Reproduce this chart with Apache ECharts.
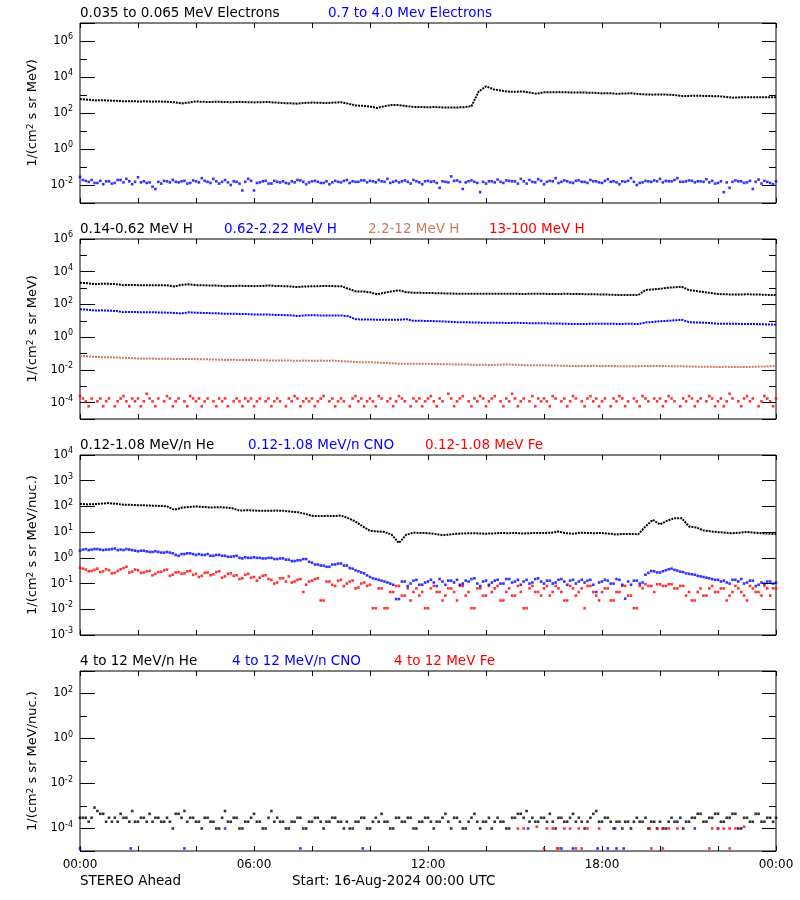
<!DOCTYPE html>
<html><head><meta charset="utf-8">
<script src="https://cdn.jsdelivr.net/npm/echarts@6/dist/echarts.min.js"></script>
<style>html,body{margin:0;padding:0;background:#fff}#c{width:800px;height:900px}</style>
</head><body><div id="c"></div>
<script>
// ---------- DATA (values in physical units; 0.25 h steps for smooth series, 0.1 h for scattered) ----------
const xTickLabels = ['00:00','06:00','12:00','18:00','00:00'];

// Panel 1: electrons
const elecLow = [ // 0.035-0.065 MeV, 97 values, every 15 min
 603,550,501,513,490,479,447,457,
 437,447,427,437,417,398,339,380,
 437,417,407,427,407,398,417,398,
 389,398,407,380,355,347,331,363,
 380,372,355,380,398,331,263,251,
 229,191,240,282,275,240,219,214,
 209,214,204,204,204,209,240,1585,
 3020,2089,1778,1549,1514,1585,1380,1175,
 1413,1413,1445,1413,1380,1380,1349,1318,
 1230,1259,1175,1202,1259,1148,1072,1047,
 1072,1047,1000,871,891,912,891,871,
 851,794,708,741,759,741,741,741,
 759];
const elecHigh = [ // 0.7-4.0 MeV, 241 values, every 6 min
 0.028,0.019,0.017,0.015,0.019,0.013,0.013,0.017,0.011,0.016,0.016,0.012,0.013,0.019,0.019,0.014,0.022,0.016,0.011,0.015,
 0.027,0.014,0.016,0.013,0.014,0.008,0.006,0.015,0.012,0.017,0.016,0.014,0.019,0.015,0.014,0.016,0.017,0.012,0.013,0.018,
 0.016,0.014,0.024,0.017,0.015,0.013,0.022,0.016,0.012,0.015,0.019,0.014,0.010,0.016,0.015,0.012,0.005,0.015,0.022,0.017,
 0.005,0.013,0.014,0.016,0.017,0.012,0.012,0.017,0.015,0.014,0.016,0.013,0.012,0.016,0.014,0.019,0.018,0.015,0.011,0.014,
 0.016,0.017,0.015,0.013,0.013,0.016,0.011,0.014,0.017,0.015,0.014,0.017,0.019,0.013,0.016,0.015,0.015,0.018,0.018,0.014,
 0.017,0.016,0.014,0.019,0.016,0.015,0.022,0.013,0.015,0.017,0.014,0.016,0.018,0.015,0.012,0.019,0.016,0.014,0.011,0.016,
 0.017,0.015,0.016,0.013,0.007,0.016,0.015,0.014,0.030,0.017,0.018,0.015,0.006,0.014,0.016,0.018,0.015,0.013,0.004,0.015,
 0.012,0.016,0.016,0.014,0.020,0.015,0.013,0.018,0.017,0.016,0.016,0.012,0.022,0.016,0.012,0.019,0.015,0.014,0.021,0.017,
 0.011,0.015,0.017,0.016,0.024,0.013,0.015,0.018,0.016,0.014,0.013,0.017,0.018,0.015,0.015,0.013,0.019,0.016,0.016,0.014,
 0.013,0.017,0.021,0.015,0.016,0.014,0.011,0.016,0.015,0.017,0.024,0.015,0.010,0.013,0.014,0.017,0.016,0.015,0.018,0.016,
 0.022,0.014,0.017,0.016,0.016,0.019,0.024,0.015,0.015,0.016,0.018,0.017,0.014,0.016,0.016,0.015,0.021,0.014,0.017,0.012,
 0.013,0.016,0.004,0.014,0.007,0.015,0.018,0.016,0.016,0.013,0.014,0.017,0.006,0.015,0.020,0.012,0.017,0.015,0.013,0.011,
 0.016];

// Panel 2: protons
const hLow = [ // 0.14-0.62 MeV H, 97 values
 2138,1995,1738,1862,1820,1738,1514,1549,
 1514,1514,1479,1514,1479,1259,1585,1698,
 1514,1479,1445,1413,1318,1349,1380,1349,
 1318,1349,1445,1349,1318,1259,1148,1259,
 1288,1318,1349,1318,1318,912,631,617,
 550,417,525,631,724,562,513,513,
 501,490,479,468,447,457,447,447,
 447,447,457,447,447,437,447,447,
 447,437,437,447,437,437,417,417,
 407,398,380,372,372,372,759,832,
 912,1047,1122,1202,759,661,575,501,
 437,417,407,407,417,407,398,380,
 372];
const hMid = [ // 0.62-2.22 MeV H, 97 values
 51.3,47.9,42.7,43.7,41.7,39.8,33.9,34.7,
 33.9,33.9,33.1,32.4,31.6,30.2,28.2,33.1,
 31.6,30.2,29.5,28.8,26.9,26.9,26.3,25.7,
 24.5,24.5,24.0,22.9,22.4,21.9,19.5,21.4,
 21.9,21.4,21.4,21.4,21.4,19.1,12.6,12.0,
 12.0,11.7,11.5,11.7,11.5,12.6,10.0,10.0,
 9.8,9.5,9.1,8.7,8.3,8.3,7.9,7.8,
 7.6,7.6,7.6,7.4,7.6,7.4,7.1,7.1,
 7.1,6.9,6.8,6.6,6.3,6.5,6.5,6.6,
 6.6,6.6,6.5,6.5,6.6,6.3,7.9,8.5,
 9.5,10.0,10.7,11.5,8.3,7.9,7.6,7.2,
 6.6,6.6,6.6,6.5,6.5,6.3,6.2,6.0,
 5.8];
const hHigh = [ // 2.2-12 MeV H, 97 values
 0.0724,0.0676,0.0631,0.0603,0.0589,0.0575,0.0550,0.0525,
 0.0490,0.0501,0.0490,0.0479,0.0479,0.0468,0.0457,0.0468,
 0.0457,0.0447,0.0437,0.0427,0.0407,0.0417,0.0407,0.0398,
 0.0398,0.0389,0.0380,0.0380,0.0372,0.0372,0.0363,0.0372,
 0.0363,0.0372,0.0363,0.0372,0.0339,0.0324,0.0302,0.0295,
 0.0295,0.0282,0.0269,0.0251,0.0240,0.0234,0.0234,0.0234,
 0.0234,0.0229,0.0224,0.0219,0.0214,0.0214,0.0209,0.0204,
 0.0204,0.0200,0.0209,0.0214,0.0209,0.0200,0.0191,0.0191,
 0.0191,0.0186,0.0182,0.0178,0.0174,0.0174,0.0174,0.0178,
 0.0174,0.0174,0.0170,0.0170,0.0166,0.0170,0.0174,0.0174,
 0.0174,0.0170,0.0166,0.0166,0.0162,0.0158,0.0158,0.0155,
 0.0151,0.0155,0.0151,0.0151,0.0151,0.0155,0.0162,0.0166,
 0.0174];
const hTop = [ // 13-100 MeV H, 241 values (null = no count)
 2.5e-4,1.8e-4,1.2e-4,6e-5,1.8e-4,null,1.2e-4,1.8e-4,6e-5,1.2e-4,1.8e-4,null,6e-5,1.2e-4,1.8e-4,2.5e-4,1.2e-4,6e-5,1.8e-4,1.2e-4,
 1.8e-4,6e-5,1.2e-4,3.5e-4,1.8e-4,1.2e-4,6e-5,1.8e-4,null,1.2e-4,2.5e-4,1.8e-4,6e-5,1.2e-4,1.8e-4,null,1.2e-4,6e-5,2.5e-4,1.8e-4,
 1.2e-4,1.8e-4,6e-5,1.2e-4,1.8e-4,null,1.2e-4,6e-5,1.8e-4,1.2e-4,1.8e-4,6e-5,null,1.2e-4,1.8e-4,1.2e-4,6e-5,1.8e-4,1.2e-4,1.8e-4,
 6e-5,1.2e-4,1.8e-4,null,1.2e-4,1.8e-4,6e-5,1.2e-4,1.8e-4,1.2e-4,null,6e-5,1.8e-4,1.2e-4,2.5e-4,1.8e-4,6e-5,1.2e-4,1.8e-4,1.2e-4,
 1.8e-4,6e-5,1.2e-4,1.8e-4,2.5e-4,null,1.2e-4,1.8e-4,6e-5,1.2e-4,1.8e-4,1.2e-4,null,6e-5,1.8e-4,2.5e-4,1.2e-4,1.8e-4,6e-5,1.2e-4,
 1.8e-4,1.2e-4,6e-5,2.5e-4,1.8e-4,null,1.2e-4,1.8e-4,6e-5,1.2e-4,2.5e-4,1.8e-4,1.2e-4,null,6e-5,1.8e-4,1.2e-4,1.8e-4,6e-5,1.2e-4,
 1.8e-4,2.5e-4,1.2e-4,6e-5,1.8e-4,1.2e-4,null,3.5e-4,1.8e-4,6e-5,1.2e-4,1.8e-4,2.5e-4,null,1.2e-4,6e-5,1.8e-4,1.2e-4,2.5e-4,1.8e-4,
 6e-5,1.2e-4,1.8e-4,2.5e-4,null,1.2e-4,6e-5,1.8e-4,1.2e-4,3.5e-4,1.8e-4,6e-5,1.2e-4,1.8e-4,null,1.2e-4,2.5e-4,6e-5,1.8e-4,1.2e-4,
 1.8e-4,1.2e-4,6e-5,2.5e-4,1.8e-4,null,1.2e-4,1.8e-4,6e-5,1.2e-4,2.5e-4,1.8e-4,null,1.2e-4,6e-5,1.8e-4,2.5e-4,1.2e-4,1.8e-4,6e-5,
 1.2e-4,1.8e-4,null,6e-5,1.8e-4,1.2e-4,2.5e-4,1.8e-4,6e-5,1.2e-4,null,1.8e-4,1.2e-4,6e-5,2.5e-4,1.8e-4,1.2e-4,null,1.8e-4,1.2e-4,
 1.8e-4,6e-5,1.2e-4,2.5e-4,1.8e-4,1.2e-4,null,6e-5,1.8e-4,1.2e-4,2.5e-4,1.8e-4,6e-5,1.2e-4,1.8e-4,null,1.2e-4,2.5e-4,1.8e-4,6e-5,
 1.2e-4,1.8e-4,6e-5,1.2e-4,3.5e-4,1.8e-4,null,1.2e-4,6e-5,1.8e-4,2.5e-4,1.2e-4,1.8e-4,null,6e-5,1.2e-4,2.5e-4,1.8e-4,1.2e-4,6e-5,
 1.8e-4];

// Panel 3: 0.12-1.08 MeV/n ions
const heLow = [ // He, 97 values
 126,120,123,129,135,126,117,115,
 112,110,107,105,100,74,89,95,
 100,95,91,93,91,85,69,71,
 69,68,68,69,68,63,60,52,
 43,42,43,42,44,35,26,16.6,
 11.2,10.7,10.2,7.9,3.8,7.9,9.5,9.3,
 9.1,8.5,7.6,8.1,8.7,8.9,9.1,8.9,
 8.7,8.9,9.3,9.1,9.3,8.9,9.1,9.3,
 9.3,9.5,10.5,9.1,8.7,9.5,9.3,9.1,
 9.3,8.7,8.1,8.5,8.5,8.3,16.6,30,
 20,28,35,35,16.6,15.1,11.7,10.7,
 10.0,9.5,9.1,9.5,10.2,9.5,9.1,8.7,
 8.3];
const cnoLow = [ // CNO, 241 values
 1.9,2.1,2.2,2.0,2.1,2.2,2.2,2.1,2.0,2.1,2.1,2.2,2.3,2.0,2.1,2.0,2.2,2.1,2.0,1.9,
 1.8,1.9,1.9,1.8,1.7,1.7,1.8,1.7,1.6,1.6,1.7,1.6,1.5,1.3,1.2,1.4,1.4,1.5,1.5,1.4,
 1.3,1.4,1.3,1.3,1.4,1.2,1.2,1.3,1.3,1.2,1.2,1.1,1.1,1.15,1.2,1.0,0.95,1.05,1.0,1.0,
 1.05,1.0,1.0,0.95,0.95,1.0,1.0,0.9,0.9,0.95,0.95,0.85,0.85,0.75,0.75,0.8,0.8,0.9,0.9,0.7,
 0.65,0.55,0.55,0.5,0.5,0.45,0.45,0.55,0.55,0.6,0.6,0.5,0.5,0.4,0.38,0.33,0.3,0.27,0.25,0.21,
 0.18,0.16,0.15,0.14,0.13,0.12,0.11,0.10,0.09,0.025,0.025,0.12,0.12,0.08,0.10,0.13,0.14,0.09,0.09,0.11,
 0.12,0.14,0.11,0.08,0.15,0.12,0.09,0.13,0.13,0.11,0.14,0.09,0.10,0.13,0.12,0.15,0.16,0.10,0.08,0.12,
 0.13,0.09,0.11,0.13,0.14,0.10,0.10,0.15,0.15,0.11,0.12,0.14,0.09,0.12,0.14,0.10,0.11,0.15,0.16,0.12,
 0.10,0.13,0.13,0.10,0.11,0.14,0.15,0.12,0.09,0.13,0.14,0.10,0.12,0.14,0.11,0.13,0.14,0.09,0.047,0.11,
 0.12,0.14,0.13,0.10,0.10,0.15,0.14,0.09,0.026,0.12,0.09,0.13,0.13,0.10,0.11,0.22,0.26,0.31,0.30,0.27,
 0.27,0.30,0.33,0.36,0.38,0.34,0.32,0.29,0.28,0.25,0.24,0.23,0.22,0.20,0.19,0.18,0.17,0.16,0.15,0.14,
 0.14,0.12,0.13,0.11,0.10,0.14,0.14,0.12,0.15,0.10,0.11,0.13,0.13,0.08,0.09,0.11,0.10,0.12,0.12,0.10,
 0.11];
const feLow = [ // Fe, 241 values
 0.42,0.38,0.35,0.30,0.31,0.34,0.38,0.28,0.30,0.36,0.33,0.25,0.26,0.31,0.36,0.40,0.45,0.27,0.29,0.35,
 0.33,0.26,0.27,0.30,0.31,0.21,0.24,0.28,0.29,0.33,0.35,0.20,0.22,0.27,0.28,0.24,0.25,0.30,0.31,0.22,
 0.24,0.18,0.20,0.26,0.27,0.21,0.23,0.28,0.30,0.17,0.19,0.24,0.25,0.20,0.21,0.15,0.16,0.22,0.24,0.17,
 0.18,0.13,0.17,0.20,0.21,0.15,0.14,0.10,0.11,0.16,0.16,0.12,0.19,0.11,0.12,0.14,0.15,0.047,0.09,0.12,
 0.13,0.15,0.16,0.022,0.022,0.12,0.12,0.09,0.08,0.13,0.14,0.08,0.10,0.12,0.13,0.065,0.07,0.10,0.11,0.081,
 0.09,0.011,0.011,0.065,0.065,0.011,0.011,0.047,0.047,0.081,0.081,0.034,0.034,0.065,0.022,0.047,0.065,0.034,0.047,0.011,
 0.011,0.065,0.081,0.047,0.047,0.022,0.034,0.065,0.065,0.047,0.022,0.081,0.081,0.034,0.047,0.011,0.011,0.065,0.065,0.034,
 0.034,0.081,0.047,0.065,0.081,0.022,0.022,0.047,0.065,0.034,0.034,0.081,0.047,0.011,0.011,0.065,0.081,0.047,0.047,0.034,
 0.065,0.081,0.034,0.047,0.081,0.065,0.047,0.022,0.022,0.081,0.065,0.034,0.047,0.065,0.011,0.081,0.081,0.047,0.034,0.022,
 0.047,0.065,0.065,0.022,0.022,0.047,0.047,0.081,0.081,0.034,0.034,0.011,0.011,0.081,0.065,0.094,0.081,0.081,0.047,0.094,
 0.094,0.081,0.081,0.094,0.094,0.065,0.065,0.081,0.081,0.034,0.047,0.022,0.022,0.047,0.065,0.034,0.034,0.065,0.081,0.047,
 0.047,0.065,0.065,0.022,0.034,0.047,0.081,0.065,0.047,0.034,0.022,0.081,0.065,0.047,0.047,0.034,0.081,0.065,0.034,0.065,
 0.065];

// Panel 4: 4-12 MeV/n ions
const heHigh = [ // He, 241 values
 3e-4,3e-4,3e-4,2e-4,3e-4,8.5e-4,6e-4,4.5e-4,4.5e-4,2e-4,3e-4,2e-4,3e-4,2e-4,4.5e-4,3e-4,3e-4,2e-4,6e-4,2e-4,
 2e-4,3e-4,3e-4,2e-4,4.5e-4,2e-4,3e-4,3e-4,2e-4,2e-4,3e-4,2e-4,1e-4,4.5e-4,4.5e-4,3e-4,6e-4,2e-4,3e-4,3e-4,
 2e-4,2e-4,1e-4,3e-4,3e-4,2e-4,2e-4,1e-4,1e-4,3e-4,6e-4,2e-4,2e-4,3e-4,3e-4,1e-4,1e-4,2e-4,2e-4,3e-4,
 4.5e-4,2e-4,2e-4,1e-4,1e-4,3e-4,6e-4,2e-4,3e-4,2e-4,2e-4,1e-4,1e-4,2e-4,2e-4,3e-4,3e-4,1e-4,1e-4,2e-4,
 2e-4,3e-4,3e-4,2e-4,1e-4,2e-4,2e-4,3e-4,3e-4,2e-4,2e-4,1e-4,2e-4,1e-4,1e-4,2e-4,2e-4,3e-4,3e-4,1e-4,
 1e-4,2e-4,3e-4,2e-4,4.5e-4,2e-4,2e-4,1e-4,1e-4,3e-4,3e-4,2e-4,2e-4,3e-4,3e-4,1e-4,1e-4,2e-4,2e-4,3e-4,
 3e-4,2e-4,1e-4,2e-4,2e-4,3e-4,4.5e-4,2e-4,1e-4,3e-4,3e-4,2e-4,1e-4,1e-4,2e-4,3e-4,4.5e-4,2e-4,1e-4,2e-4,
 2e-4,3e-4,1e-4,2e-4,3e-4,2e-4,2e-4,1e-4,1e-4,3e-4,3e-4,4.5e-4,4.5e-4,3e-4,6e-4,2e-4,3e-4,2e-4,2e-4,3e-4,
 3e-4,2e-4,4.5e-4,2e-4,1e-4,3e-4,3e-4,2e-4,2e-4,3e-4,4.5e-4,2e-4,3e-4,2e-4,1e-4,2e-4,3e-4,4.5e-4,6e-4,2e-4,
 2e-4,3e-4,3e-4,2e-4,1e-4,2e-4,2e-4,1e-4,2e-4,2e-4,1e-4,2e-4,3e-4,2e-4,2e-4,3e-4,1e-4,2e-4,2e-4,1e-4,
 2e-4,1e-4,1e-4,2e-4,3e-4,2e-4,2e-4,3e-4,1e-4,2e-4,2e-4,3e-4,3e-4,4.5e-4,4.5e-4,2e-4,2e-4,3e-4,3e-4,4.5e-4,
 4.5e-4,2e-4,2e-4,3e-4,3e-4,4.5e-4,4.5e-4,1e-4,1e-4,3e-4,3e-4,2e-4,2e-4,4.5e-4,4.5e-4,2e-4,2e-4,3e-4,3e-4,2e-4,
 3e-4];
const cnoHighHours = [0.0,1.75,3.6,5.0,7.6,9.75,15.45,16.6,17.0,17.85,18.2,18.45,18.5,18.75,21.2,22.0];
const cnoHigh      = [1.3e-5,1.3e-5,1.3e-5,1e-4,1.3e-5,1.3e-5,1e-4,1.3e-5,1.3e-5,1.3e-5,1.3e-5,1e-4,1.3e-5,1.3e-5,1e-4,1e-4];
const feHighHours = [15.1,15.3,15.75,16.0,16.1,16.3,16.45,16.5,16.7,16.9,17.1,17.2,17.3,17.5,17.9,19.65,19.7,19.9,20.1,20.1,20.3,20.6,21.7,21.8,22.0,22.2,22.4,22.4,22.6,22.9];
const feHigh      = [1e-4,1e-4,1.2e-4,1.3e-5,1e-4,1e-4,1.3e-5,1.3e-5,1e-4,1e-4,1.3e-5,1e-4,1.3e-5,1e-4,1e-4,1e-4,1.3e-5,1e-4,1e-4,1.3e-5,1e-4,1e-4,1.3e-5,1e-4,1e-4,1e-4,1e-4,1.3e-5,1e-4,1.2e-4];

// ---------- CHART ----------
const FONT = 'DejaVu Sans';
const BLUE = '#0000ff', RED = '#ff0000', BROWN = '#c87c5e', BLACK = '#000000';
const panels = [
  {top: 23,  min: -3, max: 7, step: 2, unit: 'MeV',
   titles: [['0.035 to 0.065 MeV Electrons', 80, BLACK], ['0.7 to 4.0 Mev Electrons', 328, BLUE]]},
  {top: 239, min: -5, max: 6, step: 2, unit: 'MeV',
   titles: [['0.14-0.62 MeV H', 80, BLACK], ['0.62-2.22 MeV H', 224, BLUE], ['2.2-12 MeV H', 368, BROWN], ['13-100 MeV H', 489, RED]]},
  {top: 455, min: -3, max: 4, step: 1, unit: 'MeV/nuc.',
   titles: [['0.12-1.08 MeV/n He', 80, BLACK], ['0.12-1.08 MeV/n CNO', 248, BLUE], ['0.12-1.08 MeV Fe', 425, RED]]},
  {top: 671, min: -5, max: 3, step: 2, unit: 'MeV/nuc.',
   titles: [['4 to 12 MeV/n He', 80, BLACK], ['4 to 12 MeV/n CNO', 232, BLUE], ['4 to 12 MeV Fe', 394, RED]]}
];

const grid = [], xAxis = [], yAxis = [], series = [], graphic = [];
const yMain = [];
const TXT = '13.5px "' + FONT + '"';
panels.forEach((p, i) => {
  grid.push({left: 80, right: 24, top: p.top, height: 180, show: true,
             borderColor: '#000', borderWidth: 1, backgroundColor: 'rgba(0,0,0,0)'});
  const xBase = {gridIndex: i, type: 'value', min: 0, max: 24, interval: 2,
    axisLine: {show: false, onZero: false}, splitLine: {show: false},
    axisTick: {show: true, inside: true, length: 5, lineStyle: {color: '#000', width: 1}}};
  xAxis.push(Object.assign({}, xBase, {position: 'bottom',
    axisLabel: i === 3 ? {show: true, margin: 8, color: '#000', fontFamily: FONT, fontSize: 12,
      formatter: v => (Math.round(v) % 6 === 0 ? xTickLabels[Math.round(v) / 6] : '')} : {show: false}}));
  xAxis.push(Object.assign({}, xBase, {position: 'top', axisLabel: {show: false}}));

  const yBase = {gridIndex: i, type: 'value', min: p.min, max: p.max,
    axisLine: {show: false, onZero: false}, splitLine: {show: false}};
  const majorInt = p.step === 2 ? {minInterval: 2, maxInterval: 2} : {interval: 1};
  yMain.push(yAxis.length);
  yAxis.push(Object.assign({}, yBase, majorInt, {position: 'left',
    axisTick: {inside: true, length: 15, lineStyle: {color: '#000'}},
    axisLabel: {margin: 7, color: '#000', align: 'right',
      formatter: v => {
        const e = Math.round(v);
        if (Math.abs(v - e) > 1e-6) return '';
        if (p.step === 2 && e % 2 !== 0) return '';
        return '{b|10}{s|' + e + '}';
      },
      rich: {b: {fontFamily: FONT, fontSize: 11.5, lineHeight: 16, color: '#000'},
             s: {fontFamily: FONT, fontSize: 8, lineHeight: 8, verticalAlign: 'top', color: '#000'}}},
    name: '1/(cm{s|2} s sr ' + p.unit + ')', nameLocation: 'middle', nameGap: 40,
    nameTextStyle: {fontFamily: FONT, fontSize: 13, color: '#000',
      rich: {s: {fontFamily: FONT, fontSize: 9, verticalAlign: 'top', lineHeight: 9}}}}));
  yAxis.push(Object.assign({}, yBase, majorInt, {position: 'right',
    axisTick: {inside: true, length: 14, lineStyle: {color: '#000'}}, axisLabel: {show: false}}));
  if (p.step === 2) {
    yAxis.push(Object.assign({}, yBase, {position: 'left', interval: 2,
      axisTick: {inside: true, length: 7, lineStyle: {color: '#000'}}, axisLabel: {show: false}}));
    yAxis.push(Object.assign({}, yBase, {position: 'right', interval: 2,
      axisTick: {inside: true, length: 7, lineStyle: {color: '#000'}}, axisLabel: {show: false}}));
  }
  p.titles.forEach(t => graphic.push({type: 'text', x: t[1], y: p.top - 10,
    style: {text: t[0], fill: t[2], font: TXT, verticalAlign: 'middle', textVerticalAlign: 'middle'}}));
});

const pts = (vals, hours) => vals.map((v, i) => v == null ? null :
  [hours ? hours[i] : i * 24 / (vals.length - 1), Math.log10(v)]).filter(d => d);
const line = (pi, vals, color) => ({type: 'line', xAxisIndex: pi * 2, yAxisIndex: yMain[pi],
  data: pts(vals), showSymbol: false, symbol: 'none', silent: true,
  lineStyle: {color, width: 2, type: [2, 1]}});
const dots = (pi, vals, color, hours) => ({type: 'scatter', xAxisIndex: pi * 2, yAxisIndex: yMain[pi],
  data: pts(vals, hours), symbol: 'rect', symbolSize: 2.6, silent: true, itemStyle: {color}});

series.push(line(0, elecLow, BLACK), dots(0, elecHigh, BLUE));
series.push(line(1, hLow, BLACK), line(1, hMid, BLUE), line(1, hHigh, BROWN), dots(1, hTop, RED));
series.push(dots(2, feLow, RED), dots(2, cnoLow, BLUE), line(2, heLow, BLACK));
series.push(dots(3, heHigh, BLACK), dots(3, cnoHigh, BLUE, cnoHighHours), dots(3, feHigh, RED, feHighHours));

graphic.push({type: 'text', x: 80, y: 881, style: {text: 'STEREO Ahead', fill: '#000', font: TXT, verticalAlign: 'middle', textVerticalAlign: 'middle'}});
graphic.push({type: 'text', x: 292, y: 881, style: {text: 'Start: 16-Aug-2024 00:00 UTC', fill: '#000', font: TXT, verticalAlign: 'middle', textVerticalAlign: 'middle'}});

const chart = echarts.init(document.getElementById('c'), null, {renderer: 'canvas'});
chart.setOption({animation: false, backgroundColor: '#fff', grid, xAxis, yAxis, series, graphic});
</script></body></html>
